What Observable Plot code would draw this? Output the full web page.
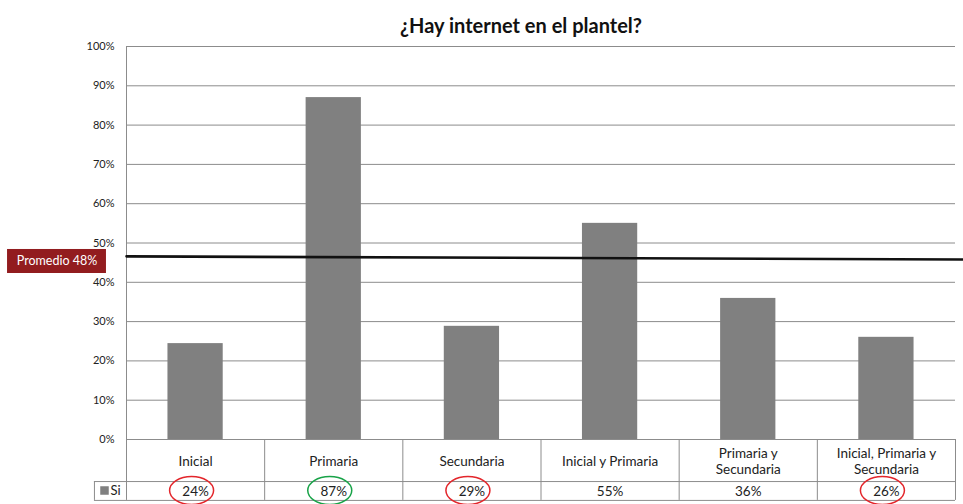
<!DOCTYPE html>
<html>
<head>
<meta charset="utf-8">
<script src="https://cdn.jsdelivr.net/npm/d3@7"></script>
<script src="https://cdn.jsdelivr.net/npm/@observablehq/plot@0.6"></script>
<style>
  html, body { margin: 0; padding: 0; background: #fff; }
  svg { display: block; }
</style>
</head>
<body>
<div id="chart"></div>
<script>
// ---- data ----
const titulo = "¿Hay internet en el plantel?";
const categorias = ["Inicial", "Primaria", "Secundaria", "Inicial y Primaria", "Primaria y Secundaria", "Inicial, Primaria y Secundaria"];
const categoriasEtiqueta = ["Inicial", "Primaria", "Secundaria", "Inicial y Primaria", "Primaria y\nSecundaria", "Inicial, Primaria y\nSecundaria"];
const serieNombre = "Si";
const si = [0.244, 0.87, 0.288, 0.55, 0.359, 0.26];
const siEtiquetas = ["24%", "87%", "29%", "55%", "36%", "26%"];
const resaltado = ["bajo", "alto", "bajo", null, null, "bajo"];
const yTicks = [0, 0.1, 0.2, 0.3, 0.4, 0.5, 0.6, 0.7, 0.8, 0.9, 1.0];
const promedioEtiqueta = "Promedio 48%";
const promedioLinea = [{x: 0, y: 0.466}, {x: 6.06, y: 0.458}];

// ---- layout constants (table below the axis, in scale units) ----
const ROW1 = -0.107;   // bottom of the category row
const ROW2 = -0.155;   // bottom of the value row
const XSI = -0.232;    // left edge of the legend cell
const BOX = {x1: -0.861, x2: -0.145, y1: 0.4224, y2: 0.4835};

const datos = categorias.map((c, i) => ({
  i, categoria: c, etiqueta: categoriasEtiqueta[i], valor: si[i], texto: siEtiquetas[i], resaltado: resaltado[i]
}));

const grid = "#8c8c8c";
const k = 0.5523;
const elipse = {
  draw(ctx) {
    const rx = 22, ry = 14;
    ctx.moveTo(rx, 0);
    ctx.bezierCurveTo(rx, ry * k, rx * k, ry, 0, ry);
    ctx.bezierCurveTo(-rx * k, ry, -rx, ry * k, -rx, 0);
    ctx.bezierCurveTo(-rx, -ry * k, -rx * k, -ry, 0, -ry);
    ctx.bezierCurveTo(rx * k, -ry, rx, -ry * k, rx, 0);
    ctx.closePath();
  }
};

const chart = Plot.plot({
  width: 963,
  height: 504,
  marginLeft: 126,
  marginRight: 8,
  marginTop: 46,
  marginBottom: 65,
  style: {fontFamily: "Lato, 'Open Sans', sans-serif", background: "#fff", color: "#222"},
  x: {domain: [0, 6], axis: null},
  y: {domain: [0, 1], axis: null},
  color: {domain: ["bajo", "alto"], range: ["#e3262b", "#18a348"]},
  marks: [
    // gridlines
    Plot.ruleY(yTicks, {x1: 0, x2: 6, stroke: grid, strokeWidth: 1}),
    // y tick labels
    Plot.text(yTicks, {x: 0, y: d => d, text: d => Math.round(d * 100) + "%", textAnchor: "end", dx: -12, fontSize: 11, fill: "#222"}),
    // bars
    Plot.rectY(datos, {x1: d => d.i + 0.3, x2: d => d.i + 0.7, y1: 0, y2: "valor", fill: "#808080"}),
    // table horizontal lines
    Plot.ruleY([ROW1, ROW2], {x1: XSI, x2: 6, stroke: grid, strokeWidth: 1, clip: false}),
    // table vertical lines
    Plot.ruleX(d3.range(0, 7), {y1: d => d === 0 ? 1 : 0, y2: ROW2, stroke: grid, strokeWidth: 1, clip: false}),
    Plot.ruleX([XSI], {y1: ROW1, y2: ROW2, stroke: grid, strokeWidth: 1, clip: false}),
    // category labels
    Plot.text(datos, {x: d => d.i + 0.5, y: 0, dy: 21, text: "etiqueta", fontSize: 13.5, lineHeight: 1.2, fill: "#222", clip: false}),
    // values
    Plot.text(datos, {x: d => d.i + 0.5, y: 0, dy: 52, text: "texto", fontSize: 13.5, fill: "#222", clip: false}),
    // highlight ellipses
    Plot.dot(datos.filter(d => d.resaltado), {x: d => d.i + 0.5, y: 0, dx: -4, dy: 51, symbol: elipse, stroke: "resaltado", fill: "none", strokeWidth: 1.5, clip: false}),
    // legend key in table
    Plot.dot([serieNombre], {x: 0, y: 0, dx: -22, dy: 51, symbol: "square", r: 4.8, fill: "#808080", stroke: "none", clip: false}),
    Plot.text([serieNombre], {x: 0, y: 0, dx: -16, dy: 51, text: d => d, textAnchor: "start", fontSize: 13, fill: "#222", clip: false}),
    // promedio line
    Plot.line(promedioLinea, {x: "x", y: "y", stroke: "#111", strokeWidth: 2.6, clip: false}),
    // promedio label
    Plot.rect([BOX], {x1: "x1", x2: "x2", y1: "y1", y2: "y2", fill: "#921c1f", clip: false}),
    Plot.text([promedioEtiqueta], {x: (BOX.x1 + BOX.x2) / 2, y: (BOX.y1 + BOX.y2) / 2, text: d => d, fill: "#fff", fontSize: 12.5, clip: false}),
    // title
    Plot.text([titulo], {frameAnchor: "top", dx: -20, dy: -28, text: d => d, fontSize: 20, fontWeight: "bold", fill: "#111"})
  ]
});
document.getElementById("chart").appendChild(chart);
</script>
</body>
</html>
